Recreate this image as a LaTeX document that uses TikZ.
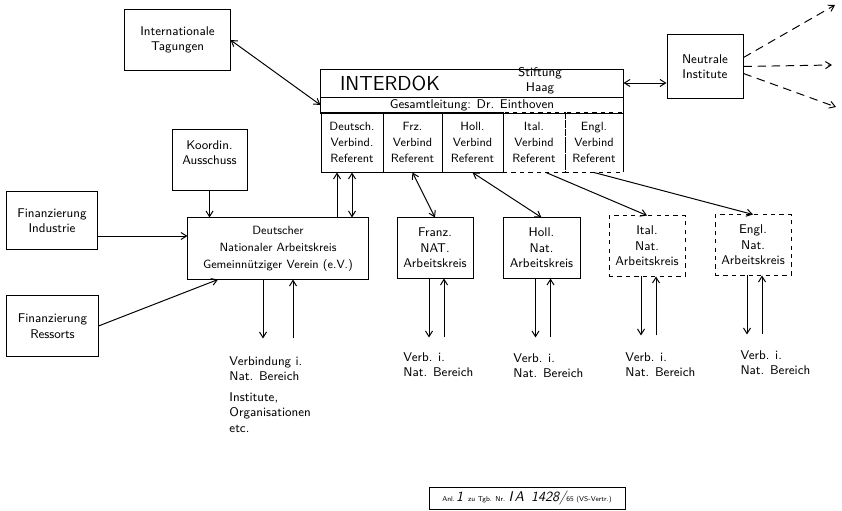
\documentclass[tikz,border=0pt]{standalone}
\usetikzlibrary{calc}
\usetikzlibrary{arrows.meta}

\begin{document}
\begin{tikzpicture}[x=0.025cm, y=-0.025cm, line width=0.7pt,
    font=\sffamily\fontsize{9}{11}\selectfont,
    >={Straight Barb[length=4pt,width=5pt]}]
  \tikzstyle{box} = [draw, inner sep=0pt, align=center, minimum width=1.9cm, minimum height=1.5cm]
  \tikzstyle{cell} = [box, minimum height=1.475cm, font=\sffamily\fontsize{8.5}{11.5}\selectfont]
  \tikzstyle{open box} = [box, dashed]
  \tikzstyle{note} = [anchor=north west, align=left, inner sep=0pt]
  \tikzstyle{flow} = [dash pattern=on 6pt off 4pt]

  \useasboundingbox (0,0) rectangle (842,511);

  % INTERDOK
  \node[box, minimum width=7.55cm, minimum height=0.7cm] (head) at (472,83) {};
  \node[font=\sffamily\Large] (interdok) at (390,83) {INTERDOK};
  \node[align=center] (stiftung) at (540,81) {Stiftung\\Haag};
  \node[box, minimum width=7.55cm, minimum height=0.4cm] (leit) at (472,105) {Gesamtleitung: Dr. Einthoven};
  \node[cell, minimum width=1.55cm] (deutref) at (352,142.5) {Deutsch.\\Verbind.\\Referent};
  \node[cell, minimum width=1.475cm] (frzref) at (412.5,142.5) {Frz.\\Verbind\\Referent};
  \node[cell, minimum width=1.525cm] (hollref) at (472.5,142.5) {Holl.\\Verbind\\Referent};
  \node[cell, dashed, minimum width=1.55cm] (italref) at (534,142.5) {Ital.\\Verbind\\Referent};
  \node[cell, dashed, minimum width=1.45cm] (englref) at (594,142.5) {Engl.\\Verbind\\Referent};
  \draw (englref.north east) -- (englref.south east);

  % other boxes
  \node[box, minimum width=2.625cm] (intl) at (177.5,40) {Internationale\\Tagungen};
  \node[box, minimum height=1.575cm] (neutr) at (705,66.5) {Neutrale\\Institute};
  \node[box, minimum width=1.875cm] (koord) at (209.5,160) {};
  \node[anchor=north, align=center] (koordtxt) at ($(koord.north)+(0,6)$) {Koordin.\\Ausschuss};
  \node[box, minimum width=2.25cm, minimum height=1.425cm] (finind) at (52,220.5) {Finanzierung\\Industrie};
  \node[box, minimum width=2.275cm] (finres) at (52.5,326) {Finanzierung\\Ressorts};
  \node[box, minimum width=4.5cm, minimum height=1.525cm, font=\sffamily\fontsize{8.5}{12}\selectfont] (deu) at (278,248.5)
    {Deutscher\\Nationaler Arbeitskreis\\Gemeinnütziger Verein (e.V.)};
  \node[box] (fr) at (435,248) {Franz.\\NAT.\\Arbeitskreis};
  \node[box, minimum width=1.925cm] (ho) at (541.5,248) {Holl.\\Nat.\\Arbeitskreis};
  \node[open box] (it) at (647,246) {Ital.\\Nat.\\Arbeitskreis};
  \node[open box] (en) at (753,245) {Engl.\\Nat.\\Arbeitskreis};

  % connections
  \draw[<->] (intl.east) -- (leit.west);
  \draw[<->] (head.east) -- (head.east -| neutr.west);
  \coordinate (outa) at (835,5);
  \coordinate (outb) at (832,65);
  \coordinate (outc) at (836,107);
  \draw[->, flow] ($(neutr.east)+(0,-9)$) -- (outa);
  \draw[->, flow] (neutr.east) -- (outb);
  \draw[->, flow] ($(neutr.east)+(0,7)$) -- (outc);

  \draw[->] (koord.south) -- (koord.south |- deu.north);
  \coordinate (indout) at (97,236);
  \draw[->] (indout) -- (indout -| deu.west);
  \draw[->] (finres.east) -- ($(deu.south)+(-60,0)$);

  \draw[->] ($(deu.north)+(59,0)$) -- ($(deutref.south)+(-15,0)$);
  \draw[<->] (deutref.south) -- (deutref.south |- deu.north);
  \draw[<->] (frzref.south) -- (fr.north);
  \draw[<->] (hollref.south) -- (ho.north);
  \draw[->] ($(italref.south)+(12,0)$) -- (it.north);
  \draw[->] (englref.south) -- (en.north);

  \coordinate (dndeu) at ($(deu.south)+(-15,59)$);
  \coordinate (updeu) at ($(deu.south)+(15,59)$);
  \draw[->] (deu.south -| dndeu) -- (dndeu);
  \draw[->] (updeu) -- (updeu |- deu.south);
  \foreach \b in {fr,ho,it,en} {
    \coordinate (dn\b) at ($(\b.south)+(-6,59)$);
    \coordinate (up\b) at ($(\b.south)+(9,59)$);
    \draw[->] (\b.south -| dn\b) -- (dn\b);
    \draw[->] (up\b) -- (up\b |- \b.south);
  }

  % notes
  \node[note] (verbdeu) at (229,356) {Verbindung i.\\Nat. Bereich};
  \node[note] (instdeu) at (229,392) {Institute,\\Organisationen\\etc.};
  \node[note] (verbfr) at (403,352) {Verb. i.\\Nat. Bereich};
  \node[note] (verbho) at (513,353) {Verb. i.\\Nat. Bereich};
  \node[note] (verbit) at (625,352) {Verb. i.\\Nat. Bereich};
  \node[note] (verben) at (740,350) {Verb. i.\\Nat. Bereich};

  \node[draw, line width=0.4pt, minimum width=4.9cm, minimum height=0.55cm, inner sep=1pt,
    font=\sffamily\tiny] (stamp) at (527,498)
    {Anl.\,{\normalsize\itshape 1}\ \ zu Tgb. Nr. {\normalsize\itshape I\,A}\quad{\normalsize\itshape 1428/}65 (VS-Vertr.)};
\end{tikzpicture}
\end{document}
